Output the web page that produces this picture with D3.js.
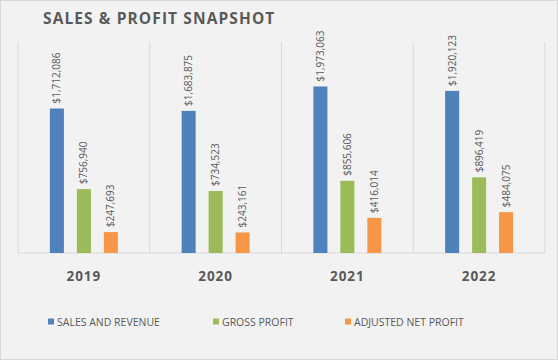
<!DOCTYPE html>
<html><head><meta charset="utf-8">
<script src="https://cdn.jsdelivr.net/npm/d3@7"></script>
<style>body{margin:0;background:#fff}svg{display:block}</style>
</head><body><svg id="c" width="558" height="360"></svg>
<script>
const title = "SALES & PROFIT SNAPSHOT";
const categories = ["2019", "2020", "2021", "2022"];
const seriesNames = ["SALES AND REVENUE", "GROSS PROFIT", "ADJUSTED NET PROFIT"];
const salesRevenue = [1712086, 1683875, 1973063, 1920123];
const grossProfit = [756940, 734523, 855606, 896419];
const adjustedNetProfit = [247693, 243161, 416014, 484075];
const colors = ["#4f81bd", "#9bbb59", "#f79646"];

const series = [salesRevenue, grossProfit, adjustedNetProfit];
const svg = d3.select("#c");
const W = 558, H = 360;
const m = {l: 18, r: 13, t: 42, b: 107};
const textColor = "#595959";
const font = "'Open Sans', 'DejaVu Sans', sans-serif";

svg.append("rect").attr("x", 0.5).attr("y", 0.5).attr("width", W - 1).attr("height", H - 1)
  .attr("fill", "#f2f2f2").attr("stroke", "#d9d9d9");

svg.append("text").attr("x", 43).attr("y", 24).text(title)
  .attr("font-family", font).attr("font-weight", "bold").attr("font-size", 15.5)
  .attr("letter-spacing", 1.1).attr("fill", textColor);

const groupW = 68;
const x = d3.scaleBand().domain(categories).range([m.l, W - m.r]).padding(0);
const xi = d3.scaleBand().domain(d3.range(series.length)).range([0, groupW]).paddingInner(0.48).paddingOuter(0);
const y = d3.scaleLinear().domain([0, 2500000]).range([H - m.b, m.t]);

const g = svg.append("g");
const bounds = categories.map(c => x(c)).concat([x(categories[categories.length - 1]) + x.bandwidth()]);
g.selectAll("line.sep").data(bounds).join("line")
  .attr("x1", d => d).attr("x2", d => d).attr("y1", y.range()[1]).attr("y2", y(0))
  .attr("stroke", "#d9d9d9").attr("stroke-width", 1);
g.append("line").attr("x1", m.l).attr("x2", W - m.r).attr("y1", y(0)).attr("y2", y(0))
  .attr("stroke", "#d9d9d9").attr("stroke-width", 1);

const fmt = d => "$" + d3.format(",")(d);
const groupOffset = (x.bandwidth() - groupW) / 2;

series.forEach((vals, si) => {
  const gs = svg.append("g");
  gs.selectAll("rect").data(vals).join("rect")
    .attr("x", (d, i) => x(categories[i]) + groupOffset + xi(si))
    .attr("y", d => y(d)).attr("width", xi.bandwidth()).attr("height", d => y(0) - y(d))
    .attr("fill", colors[si]);
  gs.selectAll("text").data(vals).join("text")
    .attr("transform", (d, i) => `translate(${x(categories[i]) + groupOffset + xi(si) + xi.bandwidth() / 2 + 3.5},${y(d) - 5}) rotate(-90)`)
    .text(fmt).attr("font-family", font).attr("font-size", 10).attr("fill", textColor);
});

svg.append("g").selectAll("text").data(categories).join("text")
  .attr("x", d => x(d) + x.bandwidth() / 2).attr("y", 281).attr("text-anchor", "middle")
  .text(d => d).attr("font-family", font).attr("font-weight", "bold").attr("font-size", 13.5)
  .attr("letter-spacing", 1).attr("fill", textColor);

const legX = [48, 213, 345];
const lg = svg.append("g");
seriesNames.forEach((n, i) => {
  lg.append("rect").attr("x", legX[i]).attr("y", 318.5).attr("width", 6).attr("height", 6).attr("fill", colors[i]);
  lg.append("text").attr("x", legX[i] + 9).attr("y", 325.5).text(n)
    .attr("font-family", font).attr("font-size", 10.5).attr("fill", textColor);
});
</script></body></html>
